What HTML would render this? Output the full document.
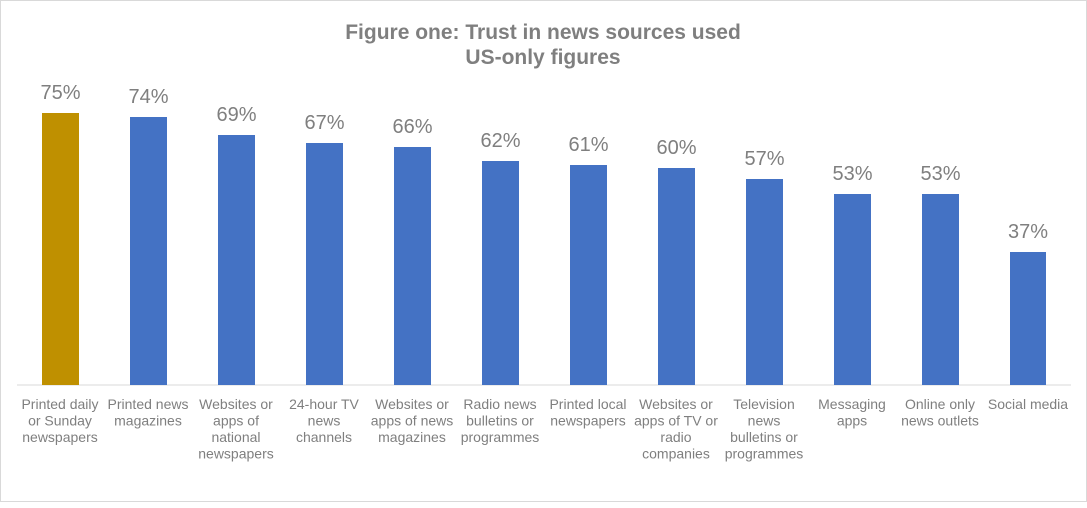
<!DOCTYPE html>
<html><head><style>
body{margin:0;background:#fff;}
svg text{font-family:"Liberation Sans",Arial,sans-serif;}
</style></head><body>
<svg width="1087" height="503" xmlns="http://www.w3.org/2000/svg">
<rect x="0.5" y="0.5" width="1086" height="501" fill="#fff" stroke="#d9d9d9"/>
<text x="543" y="39" text-anchor="middle" font-size="21" font-weight="bold" fill="#7f7f7f">Figure one: Trust in news sources used</text>
<text x="543" y="64" text-anchor="middle" font-size="21" font-weight="bold" fill="#7f7f7f">US-only figures</text>
<line x1="17" y1="385" x2="1071" y2="385" stroke="#d9d9d9" stroke-width="1"/>
<g font-size="20" fill="#7f7f7f" text-anchor="middle">
<rect x="42" y="113" width="37" height="272" fill="#bf9000"/><text x="60.5" y="99">75%</text>
<rect x="130" y="117" width="37" height="268" fill="#4472c4"/><text x="148.5" y="103">74%</text>
<rect x="218" y="135" width="37" height="250" fill="#4472c4"/><text x="236.5" y="121">69%</text>
<rect x="306" y="143" width="37" height="242" fill="#4472c4"/><text x="324.5" y="129">67%</text>
<rect x="394" y="147" width="37" height="238" fill="#4472c4"/><text x="412.5" y="133">66%</text>
<rect x="482" y="161" width="37" height="224" fill="#4472c4"/><text x="500.5" y="147">62%</text>
<rect x="570" y="165" width="37" height="220" fill="#4472c4"/><text x="588.5" y="151">61%</text>
<rect x="658" y="168" width="37" height="217" fill="#4472c4"/><text x="676.5" y="154">60%</text>
<rect x="746" y="179" width="37" height="206" fill="#4472c4"/><text x="764.5" y="165">57%</text>
<rect x="834" y="194" width="37" height="191" fill="#4472c4"/><text x="852.5" y="180">53%</text>
<rect x="922" y="194" width="37" height="191" fill="#4472c4"/><text x="940.5" y="180">53%</text>
<rect x="1010" y="252" width="36" height="133" fill="#4472c4"/><text x="1028" y="238">37%</text>
</g>
<g font-size="14" fill="#7f7f7f" text-anchor="middle">
<text x="60" y="409">Printed daily</text><text x="60" y="425.5">or Sunday</text><text x="60" y="442">newspapers</text>
<text x="148" y="409">Printed news</text><text x="148" y="425.5">magazines</text>
<text x="236" y="409">Websites or</text><text x="236" y="425.5">apps of</text><text x="236" y="442">national</text><text x="236" y="458.5">newspapers</text>
<text x="324" y="409">24-hour TV</text><text x="324" y="425.5">news</text><text x="324" y="442">channels</text>
<text x="412" y="409">Websites or</text><text x="412" y="425.5">apps of news</text><text x="412" y="442">magazines</text>
<text x="500" y="409">Radio news</text><text x="500" y="425.5">bulletins or</text><text x="500" y="442">programmes</text>
<text x="588" y="409">Printed local</text><text x="588" y="425.5">newspapers</text>
<text x="676" y="409">Websites or</text><text x="676" y="425.5">apps of TV or</text><text x="676" y="442">radio</text><text x="676" y="458.5">companies</text>
<text x="764" y="409">Television</text><text x="764" y="425.5">news</text><text x="764" y="442">bulletins or</text><text x="764" y="458.5">programmes</text>
<text x="852" y="409">Messaging</text><text x="852" y="425.5">apps</text>
<text x="940" y="409">Online only</text><text x="940" y="425.5">news outlets</text>
<text x="1028" y="409">Social media</text>
</g>
</svg>
</body></html>
